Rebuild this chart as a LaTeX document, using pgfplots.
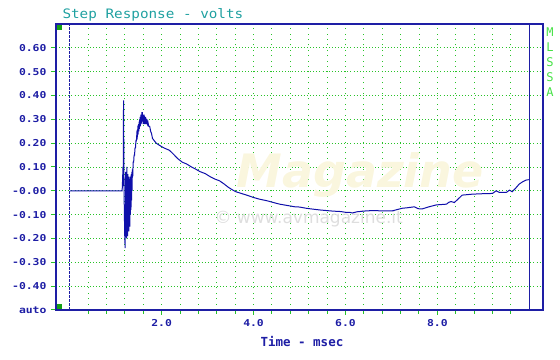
\documentclass[border=0pt]{standalone}
\usepackage{pgfplots}
\pgfplotsset{compat=1.18}
\usepackage{fontspec}
\newfontfamily\tickfont[FakeStretch=1.2]{DejaVu Sans Mono}
\newfontfamily\titlefont[FakeStretch=1.1]{DejaVu Sans Mono}
\newfontfamily\labfont{DejaVu Sans Mono}
\newfontfamily\wmfont{DejaVu Sans}
\definecolor{axblue}{RGB}{30,30,165}
\definecolor{curveblue}{RGB}{15,15,170}
\definecolor{gridgreen}{RGB}{40,195,40}
\definecolor{titleteal}{RGB}{30,160,160}
\definecolor{mlgreen}{RGB}{70,225,70}
\definecolor{sqgreen}{RGB}{20,160,20}
\definecolor{wmcream}{RGB}{250,246,222}
\definecolor{wmgray}{RGB}{222,222,222}
\begin{document}
\begin{tikzpicture}
\begin{axis}[
  scale only axis, width=487pt, height=286pt,
  xmin=-0.3, xmax=10.3, ymin=-0.5, ymax=0.7,
  axis line style={axblue, line width=1.2pt},
  xtick={2,4,6,8},
  xticklabels={2.0,4.0,6.0,8.0},
  minor xtick={0.4,0.8,1.2,1.6,2.4,2.8,3.2,3.6,4.4,4.8,5.2,5.6,6.4,6.8,7.2,7.6,8.4,8.8,9.2,9.6},
  ytick={-0.5,-0.4,-0.3,-0.2,-0.1,0,0.1,0.2,0.3,0.4,0.5,0.6},
  yticklabels={auto,-0.40,-0.30,-0.20,-0.10,-0.00,0.10,0.20,0.30,0.40,0.50,0.60},
  xtick pos=bottom, ytick pos=left,
  tick align=outside,
  major tick length=5pt, minor tick length=4pt,
  tick style={gridgreen, line width=1pt},
  xmajorgrids, xminorgrids, ymajorgrids,
  major x grid style={gridgreen, line width=0.9pt, dash pattern=on 0.9pt off 4.5pt},
  minor x grid style={gridgreen, line width=0.9pt, dash pattern=on 0.9pt off 4.5pt},
  major y grid style={gridgreen, line width=0.9pt, dash pattern=on 0.9pt off 2.2pt},
  ticklabel style={font=\tickfont\fontsize{9.5}{10}\selectfont\bfseries, text=axblue},
  xticklabel style={yshift=-1pt},
  yticklabel style={xshift=-1pt},
  clip=false,
]
\node[font=\wmfont\fontsize{46}{46}\selectfont\bfseries\itshape, text=wmcream, anchor=base west] at (axis cs:3.55,0.013) {Magazine};
\node[font=\wmfont\fontsize{17}{17}\selectfont, text=wmgray, anchor=center] at (axis cs:5.2,-0.118) {\textcopyright\ www.avmagazine.it};
\draw[axblue, line width=1pt, dash pattern=on 2.5pt off 1.5pt] (axis cs:0,-0.5) -- (axis cs:0,0.7);
\draw[axblue, line width=1.1pt] (axis cs:10,-0.5) -- (axis cs:10,0.7);
\addplot[curveblue, line width=1pt, mark=none] table {
x y
0 0
1.14 0
1.150 0.05
1.158 0.10
1.163 0.02
1.170 0.38
1.178 0.10
1.185 -0.05
1.195 -0.18
1.205 -0.24
1.212 -0.10
1.218 0.08
1.224 -0.12
1.230 0.05
1.236 -0.20
1.242 0.10
1.248 -0.13
1.254 0.02
1.260 -0.19
1.266 0.07
1.272 -0.14
1.278 0.06
1.284 -0.17
1.290 0.04
1.296 -0.12
1.302 0.05
1.308 -0.15
1.314 0.06
1.320 -0.10
1.326 0.05
1.332 -0.08
1.338 0.07
1.344 -0.04
1.350 0.08
1.356 0.00
1.362 0.09
1.370 0.06
1.380 0.12
1.390 0.12
1.40 0.15
1.41 0.15
1.42 0.18
1.43 0.18
1.44 0.21
1.45 0.21
1.46 0.24
1.47 0.23
1.48 0.26
1.49 0.25
1.50 0.28
1.505 0.25
1.51 0.29
1.515 0.26
1.52 0.30
1.525 0.27
1.53 0.31
1.535 0.27
1.54 0.31
1.545 0.28
1.55 0.32
1.555 0.28
1.56 0.32
1.565 0.29
1.57 0.33
1.575 0.29
1.58 0.33
1.585 0.29
1.59 0.32
1.595 0.28
1.60 0.32
1.605 0.28
1.61 0.32
1.615 0.29
1.62 0.32
1.625 0.28
1.63 0.31
1.635 0.28
1.64 0.31
1.645 0.28
1.65 0.31
1.655 0.28
1.66 0.30
1.665 0.28
1.67 0.30
1.675 0.28
1.68 0.29
1.69 0.28
1.70 0.29
1.72 0.27
1.74 0.27
1.76 0.25
1.78 0.24
1.80 0.22
1.84 0.21
1.88 0.20
1.92 0.195
1.96 0.19
2.05 0.18
2.17 0.17
2.25 0.155
2.35 0.135
2.45 0.12
2.54 0.113
2.65 0.10
2.75 0.09
2.83 0.081
2.95 0.072
3.05 0.06
3.15 0.05
3.26 0.042
3.35 0.03
3.45 0.015
3.55 0.003
3.62 -0.004
3.75 -0.012
3.85 -0.018
4.00 -0.028
4.13 -0.035
4.30 -0.042
4.45 -0.050
4.57 -0.056
4.75 -0.062
4.90 -0.067
5.00 -0.068
5.14 -0.073
5.30 -0.077
5.43 -0.080
5.60 -0.083
5.72 -0.085
5.90 -0.087
6.00 -0.090
6.09 -0.090
6.15 -0.093
6.25 -0.088
6.35 -0.086
6.46 -0.084
6.60 -0.083
6.80 -0.084
7.02 -0.084
7.10 -0.080
7.24 -0.073
7.35 -0.071
7.50 -0.067
7.58 -0.075
7.67 -0.076
7.80 -0.068
7.98 -0.059
8.20 -0.056
8.25 -0.048
8.30 -0.045
8.37 -0.049
8.45 -0.035
8.54 -0.018
8.76 -0.014
9.00 -0.012
9.20 -0.011
9.28 0.000
9.35 -0.007
9.50 -0.007
9.57 0.003
9.63 -0.004
9.70 0.010
9.78 0.028
9.85 0.037
9.93 0.045
9.99 0.047
};
\fill[sqgreen] ([xshift=1pt,yshift=-1pt]rel axis cs:0,1) rectangle ++(5pt,-5pt);
\fill[sqgreen] ([xshift=1pt,yshift=1pt]rel axis cs:0,0) rectangle ++(5pt,5pt);
\node[anchor=base west, font=\titlefont\fontsize{13}{13}\selectfont, text=titleteal] at ([xshift=3pt,yshift=5pt]rel axis cs:0,1) {Step Response - volts};
\node[anchor=base, font=\labfont\fontsize{12.5}{12.5}\selectfont\bfseries, text=axblue] at ([yshift=-37pt]rel axis cs:0.505,0) {Time - msec};
\node[anchor=north, align=center, font=\labfont\fontsize{12}{15}\selectfont, text=mlgreen, inner sep=0pt] at ([xshift=7pt,yshift=-4pt]rel axis cs:1,1) {M\\L\\S\\S\\A};
\coordinate (ll) at (rel axis cs:0,0);
\coordinate (ur) at (rel axis cs:1,1);
\end{axis}
\pgfresetboundingbox
\useasboundingbox ([xshift=-56pt,yshift=-50pt]ll) rectangle ([xshift=17pt,yshift=24pt]ur);
\end{tikzpicture}
\end{document}
